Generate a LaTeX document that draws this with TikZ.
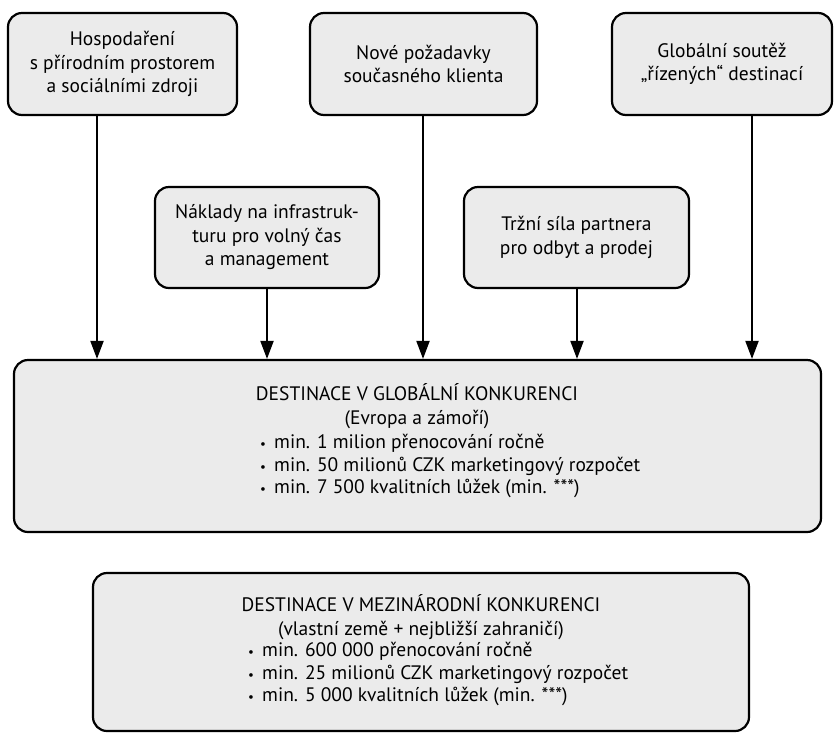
\documentclass[tikz,border=0pt]{standalone}
\usepackage{fontspec}
\setmainfont{PT Sans}
\usetikzlibrary{arrows.meta}
\definecolor{boxgray}{HTML}{EBEBEB}
\newcommand{\bul}{\makebox[14pt][l]{\fontsize{13}{13}\selectfont•}}
\begin{document}
\begin{tikzpicture}[x=1pt,y=-1pt,
  box/.style={draw=black, line width=2.2pt, fill=boxgray, rounded corners=14pt, inner sep=0pt, align=center,
    font=\fontsize{19.5}{23.5}\selectfont},
  txt/.style={inner sep=0pt, font=\fontsize{19.5}{24}\selectfont},
  blist/.style={inner sep=0pt, align=left, anchor=west, font=\fontsize{19.5}{22.5}\selectfont},
  arr/.style={line width=2pt, -{Triangle[length=18pt,width=13pt]}}]
\useasboundingbox (0,0) rectangle (834,734);
% top row
\node[box, minimum width=229pt, minimum height=102pt] (b1) at (122.5,64) {Hospodaření\\s přírodním prostorem\\a sociálními zdroji};
\node[box, minimum width=227pt, minimum height=102pt] (b2) at (423.5,64) {Nové požadavky\\současného klienta};
\node[box, minimum width=220pt, minimum height=102pt] (b3) at (722,64) {Globální soutěž\\„řízených“ destinací};
% middle row
\node[box, minimum width=224pt, minimum height=101pt] (b4) at (267,237.5) {Náklady na infrastruk-\\turu pro volný čas\\a management};
\node[box, minimum width=225pt, minimum height=101pt] (b5) at (576.5,237.5) {Tržní síla partnera\\pro odbyt a prodej};
% big boxes
\node[box, minimum width=807pt, minimum height=172pt] (g) at (417.5,446) {};
\node[txt, align=center] (gt) at (417,406) {DESTINACE V GLOBÁLNÍ KONKURENCI\\(Evropa a zámoří)};
\node[blist] (gb) at (260,466)
  {\bul min. 1 milion přenocování ročně\\\bul min. 50 milionů CZK marketingový rozpočet\\\bul min. 7 500 kvalitních lůžek (min. ***)};
\node[box, minimum width=656pt, minimum height=158pt] (m) at (421,652) {};
\node[txt, align=center] (mt) at (421,617.5) {DESTINACE V MEZINÁRODNÍ KONKURENCI\\(vlastní země + nejbližší zahraničí)};
\node[blist] (mb) at (248,674)
  {\bul min. 600 000 přenocování ročně\\\bul min. 25 milionů CZK marketingový rozpočet\\\bul min. 5 000 kvalitních lůžek (min. ***)};
% arrows
\coordinate (x1) at (97,0);
\coordinate (x2) at (423,0);
\coordinate (x3) at (752,0);
\coordinate (x4) at (267,0);
\coordinate (x5) at (577,0);
\draw[arr] (b1.south -| x1) -- (g.north -| x1);
\draw[arr] (b2.south -| x2) -- (g.north -| x2);
\draw[arr] (b3.south -| x3) -- (g.north -| x3);
\draw[arr] (b4.south -| x4) -- (g.north -| x4);
\draw[arr] (b5.south -| x5) -- (g.north -| x5);
\end{tikzpicture}
\end{document}
